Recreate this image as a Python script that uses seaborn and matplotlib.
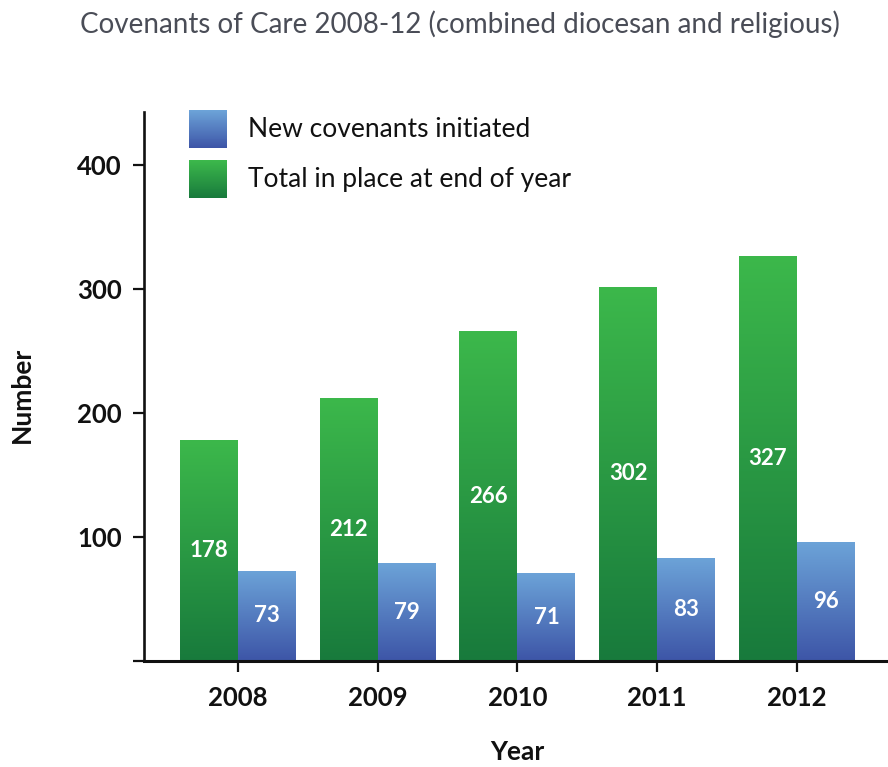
import numpy as np
import pandas as pd
import matplotlib
matplotlib.use("Agg")
import matplotlib.pyplot as plt
import seaborn as sns
from matplotlib.colors import LinearSegmentedColormap, to_rgb
from matplotlib.legend_handler import HandlerBase
from matplotlib.patches import Rectangle, Patch

# ---- data -------------------------------------------------------------
years = ["2008", "2009", "2010", "2011", "2012"]
total_in_place = [178, 212, 266, 302, 327]
new_covenants = [73, 79, 71, 83, 96]
series_names = ["Total in place at end of year", "New covenants initiated"]
y_ticks = [0, 100, 200, 300, 400]
y_tick_labels = ["", "100", "200", "300", "400"]

title = "Covenants of Care 2008-12 (combined diocesan and religious)"

# gradient end colours (top, bottom) for each series
green_top, green_bottom = "#3cb84b", "#187a3c"
blue_top, blue_bottom = "#6ca3d8", "#3d55a7"

df = pd.DataFrame({
    "Year": years * 2,
    "Number": total_in_place + new_covenants,
    "Series": [series_names[0]] * len(years) + [series_names[1]] * len(years),
})

sns.set_theme(style="white")
plt.rcParams["font.family"] = ["Lato", "DejaVu Sans"]

fig = plt.figure(figsize=(8.88, 7.67), dpi=100)
ax = fig.add_axes([144 / 888, 1 - 661 / 767, 1 - 144 / 888, (661 - 112) / 767])

sns.barplot(
    data=df, x="Year", y="Number", hue="Series", hue_order=series_names,
    palette=[green_bottom, blue_bottom], width=0.83, gap=0, saturation=1,
    edgecolor="none", linewidth=0, legend=False, ax=ax,
)

XLIM = (-0.673, 4.653)
YLIM = (0, 443)


def gradient_cmap(top, bottom):
    return LinearSegmentedColormap.from_list("g", [bottom, top])


grad = np.linspace(0, 1, 256).reshape(-1, 1)

# paint each bar with a vertical gradient, clipped to the bar shape
for container, (top, bottom) in zip(ax.containers,
                                    [(green_top, green_bottom), (blue_top, blue_bottom)]):
    cmap = gradient_cmap(top, bottom)
    for bar in container:
        x0, w, h = bar.get_x(), bar.get_width(), bar.get_height()
        im = ax.imshow(grad, cmap=cmap, origin="lower", aspect="auto",
                       extent=[x0, x0 + w, 0, h], zorder=bar.get_zorder() + 0.1,
                       interpolation="bilinear")
        im.set_clip_path(bar)
        ax.text(x0 + w / 2, h / 2, f"{int(round(h))}", ha="center", va="center",
                color="white", fontsize=16, fontweight="bold",
                zorder=bar.get_zorder() + 1)

ax.set_xlim(*XLIM)
ax.set_ylim(*YLIM)

# axes styling
for side in ["top", "right"]:
    ax.spines[side].set_visible(False)
ax.spines["left"].set_linewidth(1.9)
ax.spines["bottom"].set_linewidth(2.2)
ax.spines["left"].set_color("#111111")
ax.spines["bottom"].set_color("#111111")

ax.set_yticks(y_ticks)
ax.set_yticklabels(y_tick_labels)
ax.set_xticks(np.arange(len(years)))
ax.set_xticklabels(years)
ax.tick_params(axis="y", which="major", left=True, direction="out", length=8,
               width=1.6, color="#111111", pad=8, labelsize=18.5)
ax.tick_params(axis="x", which="major", bottom=True, direction="out", length=8,
               width=1.6, color="#111111", pad=10, labelsize=18.5)
for lbl in ax.get_xticklabels() + ax.get_yticklabels():
    lbl.set_fontweight("bold")
    lbl.set_color("#111111")

ax.set_xlabel("")
ax.set_ylabel("")
fig.text(22 / 888, 1 - 395 / 767, "Number", rotation=90, ha="center", va="center",
         fontsize=19, fontweight="bold", color="#111111")
fig.text(517 / 888, 1 - 752 / 767, "Year", ha="center", va="center",
         fontsize=19, fontweight="bold", color="#111111")

fig.text(460 / 888, 1 - 24 / 767, title, ha="center", va="center",
         fontsize=20, fontweight="normal", color="#4a4d57")


# legend swatches drawn as stacked strips forming a vertical gradient
class GradientHandler(HandlerBase):
    def __init__(self, top, bottom, n=40):
        super().__init__()
        self.top, self.bottom, self.n = to_rgb(top), to_rgb(bottom), n

    def create_artists(self, legend, orig_handle, xdescent, ydescent, width,
                       height, fontsize, trans):
        arts = []
        for i in range(self.n):
            t = i / (self.n - 1)
            c = tuple(b + (tp - b) * t for tp, b in zip(self.top, self.bottom))
            r = Rectangle((-xdescent, -ydescent + height * i / self.n), width,
                          height / self.n + 0.3, facecolor=c, edgecolor="none",
                          transform=trans)
            arts.append(r)
        return arts


h_new = Patch(label=series_names[1])
h_tot = Patch(label=series_names[0])
fs = 19
fs_px = fs * 100 / 72
ratio = 38 / fs_px
hh = (ratio - 0.245) / 0.65
leg = fig.legend(
    handles=[h_new, h_tot], labels=[series_names[1], series_names[0]],
    handler_map={h_new: GradientHandler(blue_top, blue_bottom),
                 h_tot: GradientHandler(green_top, green_bottom)},
    loc="upper left", bbox_to_anchor=(189 / 888, 1 - 110 / 767),
    bbox_transform=fig.transFigure, frameon=False, fontsize=fs,
    borderpad=0, borderaxespad=0, handlelength=ratio,
    handleheight=hh, labelspacing=12 / fs_px, handletextpad=21 / fs_px,
)
for t in leg.get_texts():
    t.set_color("#111111")

fig.savefig("out.png", dpi=100)
